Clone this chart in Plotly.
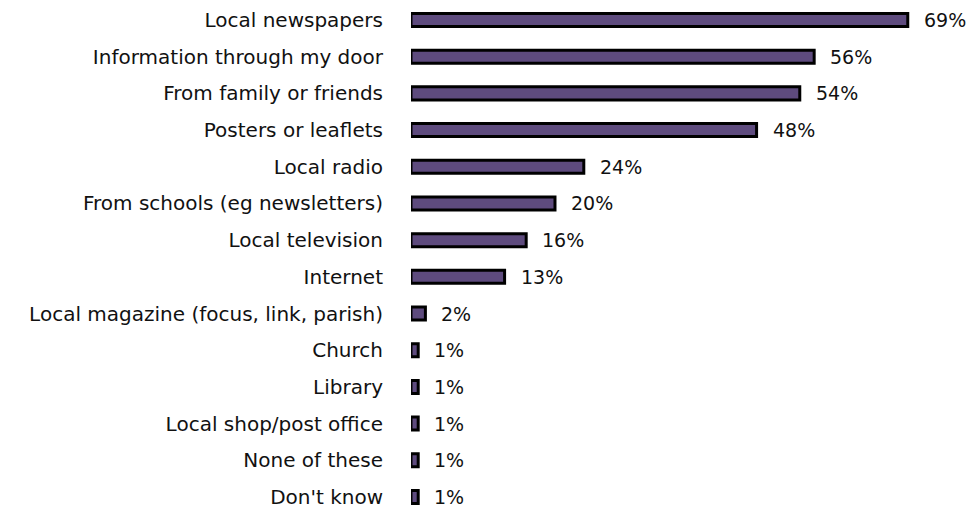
import plotly.graph_objects as go

# Sources of local information (share of respondents, %)
categories = [
    "Local newspapers",
    "Information through my door",
    "From family or friends",
    "Posters or leaflets",
    "Local radio",
    "From schools (eg newsletters)",
    "Local television",
    "Internet",
    "Local magazine (focus, link, parish)",
    "Church",
    "Library",
    "Local shop/post office",
    "None of these",
    "Don't know",
]
values = [69, 56, 54, 48, 24, 20, 16, 13, 2, 1, 1, 1, 1, 1]

BAR_FILL = "#5E4B7E"
TEXT = "#111111"
FONT = "DejaVu Sans"

fig = go.Figure(
    go.Bar(
        y=categories,
        x=values,
        orientation="h",
        width=0.355,
        marker=dict(color=BAR_FILL, line=dict(color="#000000", width=3)),
        hoverinfo="skip",
    )
)

# Percentage labels to the right of each bar
for cat, val in zip(categories, values):
    fig.add_annotation(
        x=val, y=cat, text=f"{val}%", showarrow=False,
        xanchor="left", yanchor="middle", xshift=14, yshift=0,
        font=dict(family=FONT, size=19, color=TEXT),
    )

fig.update_layout(
    width=974, height=510,
    margin=dict(l=411, r=0, t=0, b=0),
    paper_bgcolor="white", plot_bgcolor="white",
    showlegend=False,
    font=dict(family=FONT, size=19, color=TEXT),
)
fig.update_xaxes(range=[0, 78.2], visible=False, showgrid=False, zeroline=False)
fig.update_yaxes(
    categoryorder="array", categoryarray=categories,
    range=[13.355, -0.545],
    showgrid=False, zeroline=False, showline=False, ticks="",
    ticklabelstandoff=27,
    tickfont=dict(family=FONT, size=20, color=TEXT),
)

fig.write_html("out.html")
